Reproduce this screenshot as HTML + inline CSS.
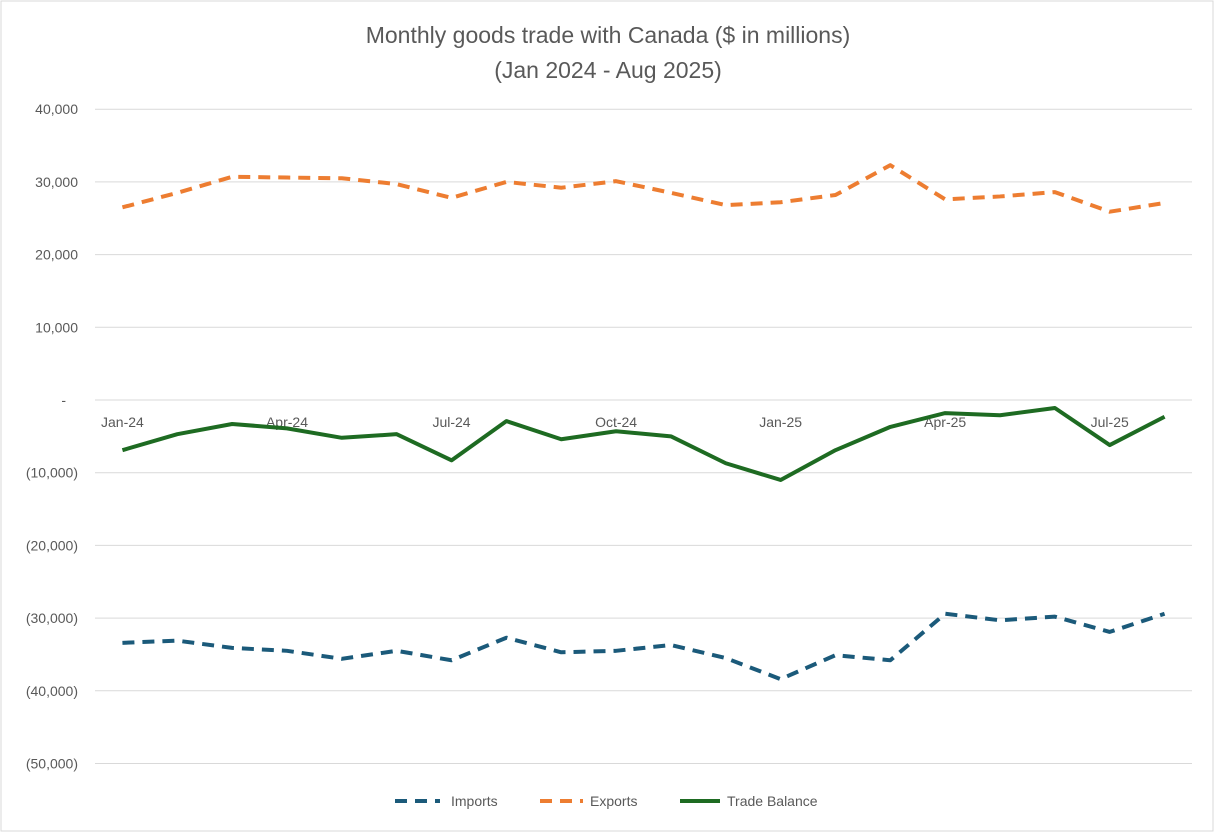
<!DOCTYPE html>
<html><head><meta charset="utf-8"><style>
body{margin:0;background:#fff;}
svg{display:block;font-family:"Liberation Sans",sans-serif;}
</style></head><body>
<svg id="chart" width="1216" height="834">
<rect x="1" y="1" width="1212" height="830" fill="#fff" stroke="#d9d9d9"/>
<text x="608" y="43" text-anchor="middle" font-size="23" fill="#595959">Monthly goods trade with Canada ($ in millions)</text>
<text x="608" y="78" text-anchor="middle" font-size="23" fill="#595959">(Jan 2024 - Aug 2025)</text>
<g id="grid"></g><g id="series"></g>
<g>
<line x1="395" y1="801" x2="440" y2="801" stroke="#1b5a7a" stroke-width="4" stroke-dasharray="12,8"/>
<text x="451" y="806" font-size="14" fill="#595959">Imports</text>
<line x1="540" y1="801" x2="583" y2="801" stroke="#ed7d31" stroke-width="4" stroke-dasharray="12,8"/>
<text x="590" y="806" font-size="14" fill="#595959">Exports</text>
<line x1="680" y1="801" x2="720" y2="801" stroke="#1e6b22" stroke-width="4"/>
<text x="727" y="806" font-size="14" fill="#595959">Trade Balance</text>
</g>
</svg>
<script>
const months=["Jan-24","Feb-24","Mar-24","Apr-24","May-24","Jun-24","Jul-24","Aug-24","Sep-24","Oct-24","Nov-24","Dec-24","Jan-25","Feb-25","Mar-25","Apr-25","May-25","Jun-25","Jul-25","Aug-25"];
const exportsV=[26500,28500,30700,30600,30500,29700,27800,30000,29200,30100,28500,26800,27200,28200,32300,27600,28000,28600,25900,27100];
const importsV=[-33400,-33100,-34100,-34500,-35600,-34500,-35800,-32700,-34700,-34500,-33700,-35500,-38400,-35100,-35800,-29400,-30300,-29800,-31900,-29400];
const balanceV=[-6900,-4700,-3300,-3900,-5200,-4700,-8300,-2900,-5400,-4300,-5000,-8700,-11000,-6900,-3700,-1800,-2100,-1100,-6200,-2300];
const yTicks=[40000,30000,20000,10000,0,-10000,-20000,-30000,-40000,-50000];
const labelEvery=3;
const NS="http://www.w3.org/2000/svg";
const x0=95,x1=1192,y0=400,pxPer=72.7/10000;
const step=(x1-x0)/months.length;
const X=i=>x0+step*(i+0.5);
const Y=v=>y0-v*pxPer;
const grid=document.getElementById('grid'),ser=document.getElementById('series');
function mk(tag,attrs,parent){const e=document.createElementNS(NS,tag);for(const k in attrs)e.setAttribute(k,attrs[k]);parent.appendChild(e);return e;}
yTicks.forEach(t=>{
 const l=mk('line',{x1:x0,x2:x1,y1:Y(t),y2:Y(t),stroke:'#d9d9d9','stroke-width':1},grid);
 
 
 const s=t===0?'-':(t<0?'('+Math.abs(t).toLocaleString('en-US')+')':t.toLocaleString('en-US'));
 const tx=mk('text',{x:t===0?66:78,y:Y(t)+5,'text-anchor':'end','font-size':14,fill:'#595959'},grid);
 tx.textContent=s;
 
 
});
months.forEach((m,i)=>{
 if(i%labelEvery)return;
 const tx=mk('text',{x:X(i),y:Y(0)+27,'text-anchor':'middle','font-size':14,fill:'#595959'},grid);
 tx.textContent=m;
 
 
});
function line(vals,color,dash,name){
 const p=mk('polyline',{points:vals.map((v,i)=>X(i)+','+Y(v)).join(' '),fill:'none',stroke:color,'stroke-width':4,'stroke-linejoin':'round'},ser);
 if(dash)p.setAttribute('stroke-dasharray',dash);
 
 
}
line(exportsV,'#ed7d31','12,8','exports-line');
line(importsV,'#1b5a7a','12,8','imports-line');
line(balanceV,'#1e6b22',null,'trade-balance-line');
</script>
</body></html>
